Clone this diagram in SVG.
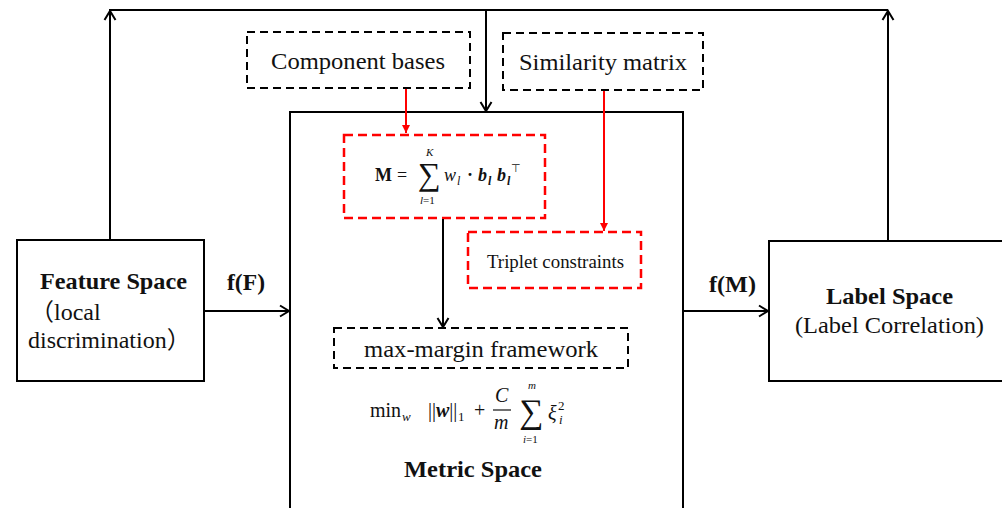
<svg xmlns="http://www.w3.org/2000/svg" width="1002" height="508" viewBox="0 0 1002 508">
<defs>
<style>
.box{fill:#fff;stroke:#000;stroke-width:2}
.dbox{fill:#fff;stroke:#000;stroke-width:2;stroke-dasharray:8 5}
.rbox{fill:#fff;stroke:#ff0000;stroke-width:2.5;stroke-dasharray:9 5}
.ln{fill:none;stroke:#000;stroke-width:2}
.rln{fill:none;stroke:#ff0000;stroke-width:2}
text{font-family:"Liberation Serif","Times New Roman","Noto Sans CJK SC",serif;fill:#111}
.t{font-size:24px}
.tb{font-size:24px;font-weight:bold}
.m{font-size:18px}
.m2{font-size:20px}
.ms{font-size:11px}
.ms2{font-size:13px}
.sig{font-size:32px}
.i{font-style:italic}
.b{font-weight:bold}
</style>
<marker id="ah" markerWidth="14" markerHeight="14" refX="11" refY="7" orient="auto" markerUnits="userSpaceOnUse">
<path d="M2,1.5 L11,7 L2,12.5" fill="none" stroke="#000" stroke-width="2"/>
</marker>
<marker id="rh" markerWidth="10" markerHeight="10" refX="8" refY="5" orient="auto" markerUnits="userSpaceOnUse">
<path d="M0,1 L8,5 L0,9 Z" fill="#ff0000"/>
</marker>
</defs>
<rect width="1002" height="508" fill="#fff"/>

<g id="feature-space">
<rect class="box" x="17" y="240" width="187" height="141"/>
<text class="tb" x="113.5" y="289" text-anchor="middle" textLength="147" lengthAdjust="spacingAndGlyphs">Feature Space</text>
<text class="t" x="30" y="320">（local</text>
<text class="t" x="28" y="348">discrimination）</text>
</g>

<g id="label-space">
<rect class="box" x="769" y="241" width="245" height="140"/>
<text class="tb" x="889.5" y="304" text-anchor="middle" textLength="127" lengthAdjust="spacingAndGlyphs">Label Space</text>
<text class="t" x="889.5" y="333" text-anchor="middle" textLength="189" lengthAdjust="spacingAndGlyphs">(Label Correlation)</text>
</g>

<g id="metric-space">
<rect class="box" x="290" y="112" width="393" height="410"/>
<text class="tb" x="473" y="477" text-anchor="middle" textLength="138" lengthAdjust="spacingAndGlyphs">Metric Space</text>
<g id="objective">
<text class="m2" x="370" y="417">min</text>
<text class="ms2 i" x="402" y="421">w</text>
<text class="m2" x="428" y="417">||<tspan class="b i">w</tspan>||</text>
<text class="ms2" x="458" y="421">1</text>
<text class="m2" x="474" y="417">+</text>
<text class="m2 i" x="495" y="402">C</text>
<line x1="493" y1="410" x2="511" y2="410" stroke="#111" stroke-width="1.2"/>
<text class="m2 i" x="494" y="429">m</text>
<text class="sig" x="519" y="423" style="font-size:34px">∑</text>
<text class="ms i" x="528" y="389">m</text>
<text class="ms" x="523" y="443"><tspan class="i">i</tspan>=1</text>
<text class="m2 i" x="548" y="420">ξ</text>
<text class="ms2" x="558" y="410">2</text>
<text class="ms2 i" x="559" y="424">i</text>
</g>
</g>

<g id="component-bases">
<rect class="dbox" x="247" y="32" width="223" height="56"/>
<text class="t" x="358" y="69" text-anchor="middle" textLength="174" lengthAdjust="spacingAndGlyphs">Component bases</text>
</g>

<g id="similarity-matrix">
<rect class="dbox" x="503" y="33" width="200" height="57"/>
<text class="t" x="603" y="70" text-anchor="middle" textLength="168" lengthAdjust="spacingAndGlyphs">Similarity matrix</text>
</g>

<g id="metric-formula">
<rect class="rbox" x="344" y="135" width="201" height="83"/>
<text class="m b" x="375" y="181">M</text>
<text class="m" x="397" y="181">=</text>
<text class="sig" x="418" y="185">∑</text>
<text class="ms i" x="426" y="156">K</text>
<text class="ms" x="420" y="204"><tspan class="i">l</tspan>=1</text>
<text class="m i" x="444" y="181">w</text>
<text class="ms i" x="457" y="185" style="font-size:12px">l</text>
<text class="m b" x="467" y="181">·</text>
<text class="m b i" x="478" y="181">b</text>
<text class="ms b i" x="488" y="185" style="font-size:12px">l</text>
<text class="m b i" x="497" y="181">b</text>
<text class="ms b i" x="507" y="185" style="font-size:12px">l</text>
<text class="ms" x="511" y="172">⊤</text>
</g>

<g id="triplet-constraints">
<rect class="rbox" x="468" y="232" width="173" height="56"/>
<text class="t" x="555.5" y="268" text-anchor="middle" style="font-size:18.5px" textLength="137" lengthAdjust="spacingAndGlyphs">Triplet constraints</text>
</g>

<g id="max-margin">
<rect class="dbox" x="334" y="328" width="294" height="40"/>
<text class="t" x="481" y="357" text-anchor="middle" textLength="234" lengthAdjust="spacingAndGlyphs">max-margin framework</text>
</g>

<g id="connectors">
<polyline class="ln" points="110,240 110,10 888,10"/>
<line class="ln" x1="110" y1="20" x2="110" y2="11" marker-end="url(#ah)"/>
<line class="ln" x1="888" y1="241" x2="888" y2="11" marker-end="url(#ah)"/>
<line class="ln" x1="486" y1="10" x2="486" y2="111" marker-end="url(#ah)"/>
<line class="ln" x1="204" y1="311" x2="289" y2="311" marker-end="url(#ah)"/>
<line class="ln" x1="683" y1="311" x2="768" y2="311" marker-end="url(#ah)"/>
<line class="ln" x1="443" y1="219" x2="443" y2="327" marker-end="url(#ah)"/>
<line class="rln" x1="406" y1="89" x2="406" y2="133" marker-end="url(#rh)"/>
<line class="rln" x1="604" y1="91" x2="604" y2="231" marker-end="url(#rh)"/>
<text class="tb" x="227" y="290" textLength="38" lengthAdjust="spacingAndGlyphs">f(F)</text>
<text class="tb" x="709" y="292" textLength="47" lengthAdjust="spacingAndGlyphs">f(M)</text>
</g>
</svg>
